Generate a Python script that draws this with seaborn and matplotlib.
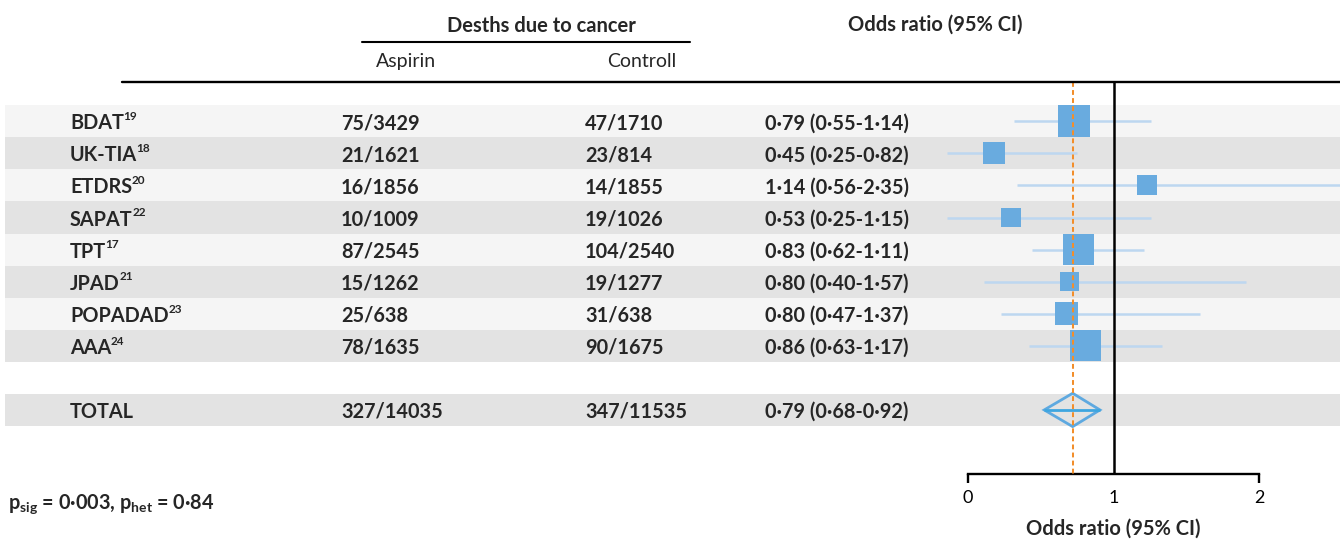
import numpy as np
import pandas as pd
import seaborn as sns
import matplotlib.pyplot as plt
from matplotlib.lines import Line2D
from matplotlib.transforms import blended_transform_factory

sns.set_theme(style="white")
plt.rcParams["font.family"] = ["Lato", "DejaVu Sans"]
plt.rcParams["mathtext.fontset"] = "custom"
plt.rcParams["mathtext.rm"] = "Lato"
plt.rcParams["mathtext.default"] = "regular"

# Table Data
studies = ["BDAT", "UK-TIA", "ETDRS", "SAPAT", "TPT", "JPAD", "POPADAD", "AAA"]
refs = ["19", "18", "20", "22", "17", "21", "23", "24"]
aspirin = ["75/3429", "21/1621", "16/1856", "10/1009", "87/2545", "15/1262", "25/638", "78/1635"]
control = ["47/1710", "23/814", "14/1855", "19/1026", "104/2540", "19/1277", "31/638", "90/1675"]
or_text = ["0·79 (0·55-1·14)", "0·45 (0·25-0·82)", "1·14 (0·56-2·35)", "0·53 (0·25-1·15)",
           "0·83 (0·62-1·11)", "0·80 (0·40-1·57)", "0·80 (0·47-1·37)", "0·86 (0·63-1·17)"]
total_aspirin = "327/14035"
total_control = "347/11535"
total_or_text = "0·79 (0·68-0·92)"

# Plotted Values
or_pt = [0.73, 0.18, 1.23, 0.30, 0.76, 0.70, 0.68, 0.81]
or_lo = [0.32, -0.14, 0.34, -0.14, 0.44, 0.11, 0.23, 0.42]
or_hi = [1.26, 0.75, 2.60, 1.26, 1.21, 1.91, 1.59, 1.33]
weights = [20.0, 9.5, 7.8, 7.8, 18.8, 7.1, 10.3, 18.8]
pooled_pt = 0.72
pooled_lo = 0.525
pooled_hi = 0.907
null_value = 1.0
ticks = [0, 1, 2]

# Colours
sq_color = "#69abdf"
ci_color = "#bdd7f0"
band_colors = ["#f5f5f5", "#e3e3e3"]

# Layout (pixels)
W, H = 1340, 539
px_per_unit = 145.8
x0_px = 967.7
row_h = 32.07
row0_px = 121.3


def py(p):
    return (p - row0_px) / row_h


fig = plt.figure(figsize=(W / 100, H / 100), dpi=100)
ax = fig.add_axes([0, 0, 1, 1])

rows = np.arange(len(studies))
total_row = len(studies) + 1
axis_row = py(474.3)
top_row = py(82)

# Row Shading
for i in rows:
    ax.axhspan(i - 0.5, i + 0.5, xmin=5 / W, xmax=1, color=band_colors[i % 2], lw=0, zorder=0)
ax.axhspan(total_row - 0.5, total_row + 0.5, xmin=5 / W, xmax=1, color=band_colors[1], lw=0, zorder=0)

# Reference Lines
ax.vlines(null_value, top_row, axis_row, color="black", lw=1.8, zorder=2)
ax.vlines(pooled_pt, top_row, axis_row, color="#f28e2b", lw=1.45,
          linestyles=(0, (2.4, 1.6)), zorder=4)

# Confidence Intervals And Squares
ax.hlines(rows, or_lo, or_hi, color=ci_color, lw=1.8, zorder=1.5)
df = pd.DataFrame({"or": or_pt, "row": rows, "weight": weights})
k = 26.5
sns.scatterplot(data=df, x="or", y="row", size="weight",
                sizes=(min(weights) * k, max(weights) * k),
                size_norm=(min(weights), max(weights)),
                marker="s", color=sq_color, linewidth=0, legend=False, ax=ax, zorder=3)

# Pooled Diamond
dh = 0.52
ax.fill([pooled_lo, pooled_pt, pooled_hi, pooled_pt],
        [total_row, total_row - dh, total_row, total_row + dh],
        facecolor="none", edgecolor="#5ea9e0", lw=2.0, zorder=3)
ax.hlines(total_row, pooled_lo, pooled_hi, color="#3ea6e0", lw=2.0, zorder=3)

# Axis
ax.set_xlim(-x0_px / px_per_unit, (W - x0_px) / px_per_unit)
ax.set_ylim(py(H), py(0))
sns.despine(ax=ax, left=True, top=True, right=True, bottom=False)
ax.spines["bottom"].set_position(("data", axis_row))
ax.spines["bottom"].set_bounds(ticks[0], ticks[-1])
ax.spines["bottom"].set_linewidth(1.7)
ax.spines["bottom"].set_color("black")
ax.set_xticks(ticks)
ax.set_xticklabels([str(t) for t in ticks])
ax.set_yticks([])
ax.tick_params(axis="x", direction="out", bottom=True, length=6.5, width=1.7,
               pad=4.5, labelsize=13, colors="black")
ax.xaxis.get_major_ticks()[1].tick1line.set_visible(False)
ax.set_xlabel("")
ax.set_ylabel("")
ax.grid(False)
ax.text(null_value, py(535), "Odds ratio (95% CI)", ha="center", va="baseline",
        fontsize=14.5, fontweight="bold")

# Table Text
tx = blended_transform_factory(fig.transFigure, ax.transData)
fs = 14.3
for i, r in zip(rows, rows):
    name = ax.text(70 / W, r + 0.25, studies[i], transform=tx,
                   va="baseline", fontsize=fs, fontweight="bold")
    ax.annotate(refs[i], xy=(1, 1), xycoords=name, xytext=(-0.4, 1.6),
                textcoords="offset points", va="top", ha="left",
                fontsize=8.5, fontweight="bold")
    ax.text(341 / W, r + 0.25, aspirin[i], transform=tx, va="baseline", fontsize=fs, fontweight="bold")
    ax.text(585 / W, r + 0.25, control[i], transform=tx, va="baseline", fontsize=fs, fontweight="bold")
    ax.text(765 / W, r + 0.25, or_text[i], transform=tx, va="baseline", fontsize=fs, fontweight="bold")
ax.text(70 / W, total_row + 0.25, "TOTAL", transform=tx, va="baseline", fontsize=fs, fontweight="bold")
ax.text(341 / W, total_row + 0.25, total_aspirin, transform=tx, va="baseline", fontsize=fs, fontweight="bold")
ax.text(585 / W, total_row + 0.25, total_control, transform=tx, va="baseline", fontsize=fs, fontweight="bold")
ax.text(765 / W, total_row + 0.25, total_or_text, transform=tx, va="baseline", fontsize=fs, fontweight="bold")

# Headers
fig.text(541 / W, 1 - 32 / H, "Desths due to cancer", ha="center", va="baseline",
         fontsize=14.5, fontweight="bold")
fig.text(406 / W, 1 - 67 / H, "Aspirin", ha="center", va="baseline", fontsize=14)
fig.text(642 / W, 1 - 67 / H, "Controll", ha="center", va="baseline", fontsize=14)
fig.text(935 / W, 1 - 31 / H, "Odds ratio (95% CI)", ha="center", va="baseline",
         fontsize=14.5, fontweight="bold")
fig.add_artist(Line2D([362 / W, 690 / W], [1 - 42 / H] * 2, color="black", lw=1.5))
fig.add_artist(Line2D([122 / W, 1], [1 - 82 / H] * 2, color="black", lw=1.7))

# P Values
fig.text(8 / W, 1 - 509 / H, "p$_{sig}$ = 0·003, p$_{het}$ = 0·84", va="baseline",
         fontsize=14.3, fontweight="bold")

fig.savefig("out.png", dpi=100)
